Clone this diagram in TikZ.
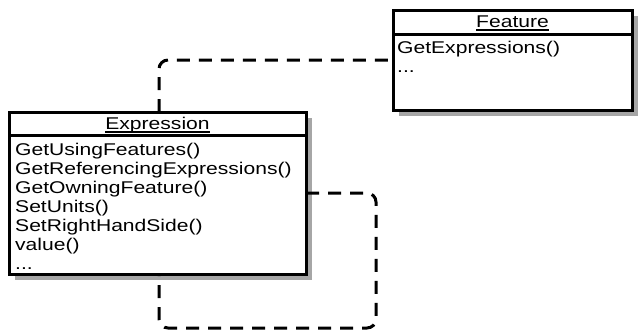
\documentclass[tikz,border=0pt]{standalone}
\usepackage{fontspec}
\setmainfont[FakeStretch=1.24]{Liberation Sans}
\usetikzlibrary{shadows}

\tikzset{
  classbox/.style={draw, line width=3pt, fill=white, anchor=north west, inner sep=0pt, outer sep=0pt,
    drop shadow={shadow xshift=6pt, shadow yshift=-6pt, fill=black!35, opacity=1}},
  member/.style={anchor=base west, inner sep=0pt, font=\fontsize{17}{19}\selectfont},
  classname/.style={anchor=base, inner sep=0pt, font=\fontsize{17}{19}\selectfont},
  depline/.style={line width=3pt, dash pattern=on 13pt off 9pt, rounded corners=9pt}
}
\newcommand{\ulname}[1]{\setbox0\hbox{#1}\rlap{\rule[-4pt]{\wd0}{1.6pt}}\box0}
\newcommand{\moredots}{...}

\begin{document}
\begin{tikzpicture}[x=1pt, y=-1pt]
  \useasboundingbox (0,0) rectangle (638,333);

  % Feature class
  \node[classbox, minimum width=239pt, minimum height=100pt] (feature) at (393,10) {};
  \draw[line width=3pt] ([yshift=-24pt]feature.north west) -- ([yshift=-24pt]feature.north east);
  \node[classname] (featuretitle) at ([yshift=-17pt]feature.north) {\ulname{Feature}};
  \node[member] (fm1) at (397,53) {GetExpressions()};
  \node[member] (fm2) at (397,72) {\moredots};

  % Expression class
  \node[classbox, minimum width=297pt, minimum height=162pt] (expr) at (9,112) {};
  \draw[line width=3pt] ([yshift=-23pt]expr.north west) -- ([yshift=-23pt]expr.north east);
  \node[classname] (exprtitle) at ([yshift=-17pt]expr.north) {\ulname{Expression}};
  \foreach \m [count=\i] in {GetUsingFeatures(), GetReferencingExpressions(), GetOwningFeature(),
      SetUnits(), SetRightHandSide(), value(), \moredots}
    \node[member] (em\i) at (15,{155+19*(\i-1)}) {\m};

  % dependencies
  \draw[depline] ([xshift=150pt]expr.north west) |- (feature.west);
  \coordinate (loopcorner) at (376,328);
  \draw[depline] (expr.east) -| (loopcorner) -| ([xshift=150pt]expr.south west);
\end{tikzpicture}
\end{document}
